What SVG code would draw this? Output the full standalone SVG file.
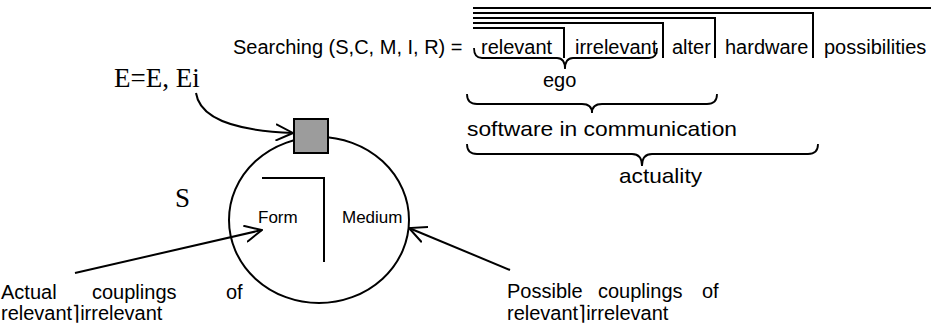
<svg xmlns="http://www.w3.org/2000/svg" width="931" height="328" viewBox="0 0 931 328">
<style>
.t{font-family:"Liberation Sans",Arial,sans-serif;fill:#000}
.s{font-family:"Liberation Serif","Times New Roman",serif;fill:#000}
.ln{fill:none;stroke:#000;stroke-width:2}
.br{fill:none;stroke:#000;stroke-width:1.8}
</style>
<defs>
<marker id="ah" viewBox="0 0 12 12" refX="11.5" refY="6" markerWidth="18" markerHeight="18" markerUnits="userSpaceOnUse" orient="auto">
<path d="M0,0.5 L11.5,6 L0,11.5" fill="none" stroke="#000" stroke-width="1.3"/>
</marker>
</defs>
<rect width="931" height="328" fill="#fff"/>

<g id="searching">
<text class="t" x="233" y="54" font-size="20">Searching (S,C, M, I, R) =</text>
<text class="t" x="481" y="54" font-size="20">relevant</text>
<text class="t" x="575" y="54" font-size="20">irrelevant</text>
<text class="t" x="672" y="54" font-size="20">alter</text>
<text class="t" x="725" y="54" font-size="20">hardware</text>
<text class="t" x="824" y="54" font-size="20">possibilities</text>
<path class="ln" d="M473 8 H931 M473 13 H813 V58 M473 18 H715 V58 M473 23 H663 V58 M473 28 H564 V58"/>
</g>

<g id="braces">
<path class="br" d="M474 48 Q474 58 482 58 L557 58 Q565 58 565 69 Q565 58 573 58 L649 58 Q657 58 657 48"/>
<text class="t" x="543" y="87" font-size="20">ego</text>
<path class="br" d="M467 94 Q467 104 477 104 L582 104 Q592 104 592 113 Q592 104 602 104 L707 104 Q717 104 717 94"/>
<text class="t" x="467" y="136" font-size="21" textLength="270" lengthAdjust="spacingAndGlyphs">software in communication</text>
<path class="br" d="M467 144 Q467 154 477 154 L632 154 Q642 154 642 166 Q642 154 652 154 L808 154 Q818 154 818 144"/>
<text class="t" x="619" y="183" font-size="21" textLength="83" lengthAdjust="spacingAndGlyphs">actuality</text>
</g>

<g id="system">
<ellipse cx="319" cy="220" rx="90" ry="83" fill="none" stroke="#000" stroke-width="2"/>
<path class="ln" d="M262 178 H324 V262"/>
<text class="t" x="258" y="223" font-size="17">Form</text>
<text class="t" x="342" y="223" font-size="17">Medium</text>
</g>

<g id="square">
<rect x="294" y="119" width="34" height="34" fill="#9c9c9c" stroke="#000" stroke-width="2"/>
</g>

<g id="labelS">
<text class="s" x="175" y="207" font-size="27">S</text>
</g>

<g id="labelE">
<text class="s" x="114" y="87" font-size="27">E=E, Ei</text>
</g>

<g id="actual">
<text class="t" x="1" y="299" font-size="20">Actual</text>
<text class="t" x="92" y="299" font-size="20">couplings</text>
<text class="t" x="226" y="299" font-size="20">of</text>
<text class="t" x="1" y="320" font-size="20">relevant⌉irrelevant</text>
</g>

<g id="possible">
<text class="t" x="507" y="298" font-size="20">Possible</text>
<text class="t" x="598" y="298" font-size="20">couplings</text>
<text class="t" x="702" y="298" font-size="20">of</text>
<text class="t" x="507" y="320" font-size="20">relevant⌉irrelevant</text>
</g>

<g id="connectors">
<path class="ln" d="M196 93 C200 120 240 131 293 133" marker-end="url(#ah)"/>
<path class="ln" d="M75 273 L262 230" marker-end="url(#ah)"/>
<path class="ln" d="M510 270 L409 228" marker-end="url(#ah)"/>
</g>
</svg>
